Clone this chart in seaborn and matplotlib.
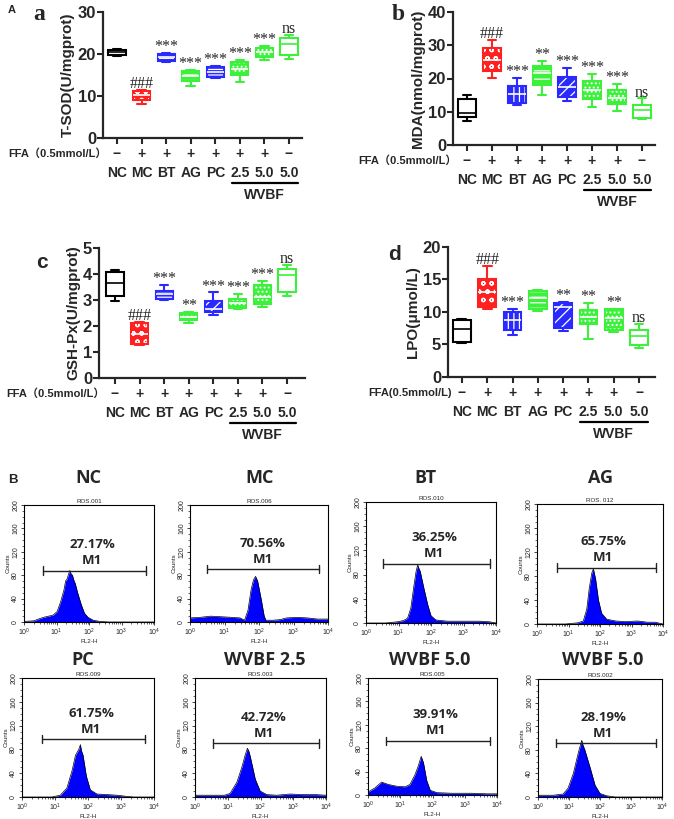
import numpy as np
import pandas as pd
import matplotlib
matplotlib.use("Agg")
import matplotlib.pyplot as plt
import seaborn as sns
from matplotlib.transforms import blended_transform_factory, offset_copy
from matplotlib.colors import to_rgba
from matplotlib.ticker import MultipleLocator

# ---------------- data ----------------
groups = ["NC", "MC", "BT", "AG", "PC", "W2.5", "W5.0", "W5.0n"]
group_labels = ["NC", "MC", "BT", "AG", "PC", "2.5", "5.0", "5.0"]
ffa_signs = ["\u2212", "+", "+", "+", "+", "+", "+", "\u2212"]

# (a) T-SOD five-number summaries
tsod_min = [19.5, 8.0, 18.0, 12.5, 14.3, 13.3, 18.5, 18.9]
tsod_q1 = [19.8, 9.0, 18.3, 13.5, 14.5, 14.9, 19.3, 19.8]
tsod_med = [20.5, 10.2, 19.2, 14.7, 15.8, 16.5, 20.5, 22.5]
tsod_q3 = [21.0, 11.3, 20.1, 15.9, 16.9, 18.1, 21.5, 23.9]
tsod_max = [21.3, 11.4, 20.3, 16.1, 17.1, 18.5, 21.9, 24.6]
tsod_sig = ["", "###", "***", "***", "***", "***", "***", "ns"]

# (b) MDA
mda_min = [7.3, 20.1, 12.0, 15.1, 13.1, 11.4, 10.1, 7.7]
mda_q1 = [8.5, 22.4, 12.6, 18.1, 14.3, 13.8, 12.4, 8.0]
mda_med = [9.5, 25.6, 15.3, 21.6, 17.4, 16.6, 14.1, 10.6]
mda_q3 = [13.8, 29.1, 17.8, 23.8, 20.6, 19.3, 16.6, 12.1]
mda_max = [15.1, 31.7, 20.1, 25.3, 23.1, 21.4, 18.3, 14.0]
mda_sig = ["", "###", "***", "**", "***", "***", "***", "ns"]

# (c) GSH-Px
gsh_min = [2.98, 1.26, 3.00, 2.13, 2.42, 2.65, 2.74, 3.16]
gsh_q1 = [3.17, 1.30, 3.04, 2.23, 2.55, 2.68, 2.85, 3.32]
gsh_med = [3.65, 1.68, 3.22, 2.36, 2.64, 2.87, 3.13, 3.97]
gsh_q3 = [4.07, 2.10, 3.36, 2.51, 2.98, 3.03, 3.57, 4.20]
gsh_max = [4.16, 2.14, 3.58, 2.53, 3.29, 3.23, 3.75, 4.36]
gsh_sig = ["", "###", "***", "**", "***", "***", "***", "ns"]

# (d) LPO
lpo_min = [5.2, 10.4, 6.5, 10.2, 7.1, 5.9, 6.9, 4.5]
lpo_q1 = [5.4, 10.8, 7.3, 10.4, 7.6, 8.2, 7.3, 4.9]
lpo_med = [7.4, 13.1, 8.7, 12.1, 10.8, 9.3, 9.0, 6.3]
lpo_q3 = [8.7, 15.1, 10.0, 13.3, 11.4, 10.3, 10.4, 7.2]
lpo_max = [8.9, 17.1, 10.5, 13.4, 11.5, 11.4, 10.5, 8.1]
lpo_sig = ["", "###", "***", "", "**", "**", "**", "ns"]

# (B) flow cytometry histograms: log10(FL2-H) positions and counts
nc_logx = [0, 0.3, 0.44, 0.6, 0.76, 0.9, 1.02, 1.13, 1.23, 1.28, 1.33, 1.36, 1.41, 1.45, 1.49, 1.53, 1.58, 1.65, 1.76, 1.86, 1.97, 2.13, 2.34, 2.6, 4]
nc_cnt = [1, 2, 5, 8, 10, 12, 18, 35, 55, 70, 74, 80, 88, 82, 80, 72, 65, 50, 30, 15, 8, 3, 1, 0, 0]
mc_logx = [0, 0.3, 0.6, 0.9, 1.2, 1.45, 1.58, 1.68, 1.77, 1.84, 1.9, 1.96, 2.06, 2.15, 2.2, 2.4, 2.6, 2.8, 3.1, 3.4, 3.7, 4]
mc_cnt = [7, 8, 10, 9, 8, 7, 3, 20, 55, 72, 78, 70, 40, 10, 3, 3, 4, 7, 8, 7, 5, 5]
bt_logx = [0, 0.6, 0.97, 1.15, 1.28, 1.38, 1.47, 1.54, 1.59, 1.63, 1.67, 1.77, 1.9, 2.0, 2.15, 2.5, 3.0, 3.5, 3.8, 4]
bt_cnt = [0, 0, 2, 4, 8, 25, 60, 85, 96, 90, 85, 60, 30, 12, 5, 3, 3, 3, 2, 0]
ag_logx = [0, 0.9, 1.3, 1.47, 1.58, 1.66, 1.74, 1.79, 1.83, 1.86, 1.95, 2.05, 2.21, 2.5, 2.8, 3.2, 3.5, 3.75, 4]
ag_cnt = [0, 0, 2, 5, 25, 60, 85, 92, 82, 75, 40, 18, 8, 5, 4, 5, 3, 3, 0]
pc_logx = [0, 0.9, 1.16, 1.36, 1.52, 1.62, 1.72, 1.77, 1.8, 1.85, 1.95, 2.07, 2.27, 2.6, 2.88, 3.18, 3.4, 4]
pc_cnt = [0, 0, 3, 15, 45, 70, 80, 88, 78, 70, 35, 12, 5, 4, 3, 1, 0, 0]
w25_logx = [0, 0.4, 0.9, 1.07, 1.28, 1.43, 1.53, 1.6, 1.65, 1.7, 1.84, 1.99, 2.19, 2.5, 2.9, 3.3, 3.7, 4]
w25_cnt = [3, 3, 3, 6, 25, 50, 70, 82, 76, 65, 30, 10, 4, 3, 5, 4, 4, 3]
w50_logx = [0, 0.21, 0.42, 0.63, 0.89, 1.15, 1.3, 1.46, 1.56, 1.65, 1.72, 1.82, 1.93, 2.14, 2.6, 3.2, 3.7, 4]
w50_cnt = [5, 12, 22, 18, 15, 14, 18, 35, 50, 66, 55, 25, 8, 4, 3, 3, 2, 2]
w50n_logx = [0, 0.5, 0.81, 0.97, 1.14, 1.3, 1.41, 1.45, 1.51, 1.68, 1.84, 2.0, 2.22, 2.5, 4]
w50n_cnt = [3, 3, 5, 15, 40, 75, 96, 88, 80, 50, 20, 6, 2, 0, 0]

hist_titles = ["NC", "MC", "BT", "AG", "PC", "WVBF 2.5", "WVBF 5.0", "WVBF 5.0"]
ros_ids = ["ROS.001", "ROS.006", "ROS.010", "ROS. 012", "ROS.009", "ROS.003", "ROS.005", "ROS.002"]
m1_pct = ["27.17%", "70.56%", "36.25%", "65.75%", "61.75%", "42.72%", "39.91%", "28.19%"]
m1_left = [3.8, 3.1, 3.4, 4.3, 3.9, 3.6, 3.7, 3.9]
m1_right = [5500, 5500, 6700, 5800, 5200, 6000, 6000, 6600]
m1_y = [88, 90, 98, 94, 97, 90, 93, 91]

# ---------------- style ----------------
sns.set_theme(style="ticks")
plt.rcParams["font.family"] = ["Liberation Sans", "Noto Sans CJK SC", "DejaVu Sans"]
plt.rcParams["hatch.linewidth"] = 0.9
plt.rcParams["mathtext.default"] = "regular"

RED, BLUE, GREEN = "#ff2020", "#2a2aff", "#3cf03c"
face = ["white", RED, BLUE, GREEN, BLUE, GREEN, GREEN, "white"]
edge = ["black", RED, BLUE, GREEN, BLUE, GREEN, GREEN, GREEN]

W, H = 674, 819
fig = plt.figure(figsize=(W / 100, H / 100), dpi=100)


def pax(L, T, R, B):
    return fig.add_axes([L / W, 1 - B / H, (R - L) / W, (B - T) / H])


panels = [
    dict(pos=(103, 12, 302, 138), vals=(tsod_min, tsod_q1, tsod_med, tsod_q3, tsod_max),
         ylim=(0, 30), yticks=[0, 10, 20, 30], ylabel="T-SOD(U/mgprot)", sig=tsod_sig,
         hatch=["", "oo", "---", "---", "---", "....", "....", ""],
         ffa="FFA\uff080.5mmol/L\uff09", xlim=(-0.57, 7.53)),
    dict(pos=(453, 12, 655, 145), vals=(mda_min, mda_q1, mda_med, mda_q3, mda_max),
         ylim=(0, 40), yticks=[0, 10, 20, 30, 40], ylabel="MDA(nmol/mgprot)", sig=mda_sig,
         hatch=["", "oo", "|||", "--", "///", "....", "....", ""],
         ffa="FFA\uff080.5mmol/L\uff09", xlim=(-0.56, 7.52)),
    dict(pos=(99, 248, 305, 378), vals=(gsh_min, gsh_q1, gsh_med, gsh_q3, gsh_max),
         ylim=(0, 5), yticks=[0, 1, 2, 3, 4, 5], ylabel="GSH-Px(U/mgprot)", sig=gsh_sig,
         hatch=["", "oo", "---", "....", "///", "....", "....", ""],
         ffa="FFA\uff080.5mmol/L\uff09", xlim=(-0.65, 7.73)),
    dict(pos=(448, 247, 655, 377), vals=(lpo_min, lpo_q1, lpo_med, lpo_q3, lpo_max),
         ylim=(0, 20), yticks=[0, 5, 10, 15, 20], ylabel="LPO(\u03bcmol/L)", sig=lpo_sig,
         hatch=["", "oo", "|||", "---", "///", "....", "....", ""],
         ffa="FFA(0.5mmol/L)", xlim=(-0.55, 7.63)),
]

for p in panels:
    ax = pax(*p["pos"])
    mins, q1, med, q3, mx = p["vals"]
    df = pd.DataFrame({
        "group": np.repeat(groups, 5),
        "value": np.column_stack([mins, q1, med, q3, mx]).ravel(),
    })
    for i, g in enumerate(groups):
        n0 = len(ax.patches)
        mcol = "white" if face[i] != "white" else edge[i]
        sns.boxplot(data=df[df["group"] == g], x="group", y="value", order=groups,
                    color=face[i], linecolor=edge[i], saturation=1, width=0.7,
                    whis=(0, 100), showfliers=False, linewidth=1.5,
                    medianprops=dict(color=mcol, linewidth=1.2), ax=ax)
        for patch in ax.patches[n0:]:
            patch.set_hatch(p["hatch"][i])
            patch._hatch_color = to_rgba("white")
    ax.set_xlim(*p["xlim"])
    ax.set_ylim(*p["ylim"])
    ax.set_yticks(p["yticks"])
    ax.set_xticks(range(len(groups)))
    ax.set_xticklabels([])
    ax.set_xlabel("")
    ax.set_ylabel(p["ylabel"], fontsize=11, fontweight="bold", labelpad=2)
    sns.despine(ax=ax)
    for s in ("left", "bottom"):
        ax.spines[s].set_linewidth(1.6)
    ax.tick_params(axis="both", direction="out", width=1.5, length=4, pad=1, labelsize=12)
    for lbl in ax.get_yticklabels():
        lbl.set_fontweight("bold")

    for i, s in enumerate(p["sig"]):
        if s:
            ax.annotate(s, (i, mx[i]), xytext=(0, -1.5), textcoords="offset points",
                        ha="center", va="bottom", family="Liberation Serif",
                        fontsize=11.5, annotation_clip=False)

    base = blended_transform_factory(ax.transData, ax.transAxes)

    def tr(dy, base=base):
        return offset_copy(base, fig=fig, x=0, y=-dy, units="dots")

    for i, (s, l) in enumerate(zip(ffa_signs, group_labels)):
        ax.text(i, 0, s, transform=tr(16), ha="center", va="center", fontsize=10,
                fontweight="bold", clip_on=False)
        ax.text(i, 0, l, transform=tr(35), ha="center", va="center", fontsize=10,
                fontweight="bold", clip_on=False)
    ax.text(-0.42, 0, p["ffa"], transform=tr(16), ha="right", va="center", fontsize=8,
            fontweight="bold", clip_on=False)
    ax.plot([4.68, 7.37], [0, 0], transform=tr(45), color="black", lw=1.6, clip_on=False)
    ax.text(6.0, 0, "WVBF", transform=tr(57), ha="center", va="center", fontsize=10,
            fontweight="bold", clip_on=False)

# panel letters
fig.text(8 / W, 1 - 10 / H, "A", fontsize=8, fontweight="bold", va="center")
fig.text(33 / W, 1 - 15 / H, "a", fontsize=17, fontweight="bold", family="Liberation Serif", va="center")
fig.text(392 / W, 1 - 15 / H, "b", fontsize=17, fontweight="bold", family="Liberation Serif", va="center")
fig.text(36 / W, 1 - 262 / H, "c", fontsize=15, fontweight="bold", va="center")
fig.text(388 / W, 1 - 255 / H, "d", fontsize=15, fontweight="bold", va="center")
fig.text(8 / W, 1 - 480 / H, "B", fontsize=9.5, fontweight="bold", va="center")

# ---------------- histograms ----------------
hist_x = [nc_logx, mc_logx, bt_logx, ag_logx, pc_logx, w25_logx, w50_logx, w50n_logx]
hist_y = [nc_cnt, mc_cnt, bt_cnt, ag_cnt, pc_cnt, w25_cnt, w50_cnt, w50n_cnt]
hist_pos = [(24, 505, 154, 622), (190, 505, 328, 622), (366, 502, 496, 623), (537, 504, 663, 624),
            (22, 678, 154, 797), (195, 678, 326, 797), (368, 678, 497, 795), (538, 679, 662, 797)]
title_xy = [(88, 478), (260, 478), (425, 478), (600, 478),
            (83, 660), (265, 660), (430, 660), (603, 660)]

for k in range(8):
    ax = pax(*hist_pos[k])
    xs = 10 ** np.asarray(hist_x[k], dtype=float)
    ys = np.asarray(hist_y[k], dtype=float)
    ax.fill_between(xs, ys, color="#0000ff", lw=0)
    sns.lineplot(x=xs, y=ys, color="black", lw=0.5, estimator=None, sort=False, ax=ax)
    ax.set_xscale("log")
    ax.set_xlim(1, 1e4)
    ax.set_ylim(0, 200)
    ax.set_xticks([1, 10, 100, 1000, 10000])
    ax.set_xticklabels(["$10^0$", "$10^1$", "$10^2$", "$10^3$", "$10^4$"])
    ax.set_yticks([0, 40, 80, 120, 160, 200])
    ax.yaxis.set_minor_locator(MultipleLocator(10))
    ax.tick_params(axis="both", which="major", labelsize=5, length=2.5, width=0.6, pad=1)
    ax.tick_params(axis="both", which="minor", length=1.5, width=0.5)
    for lbl in ax.get_yticklabels():
        lbl.set_rotation(90)
        lbl.set_va("center")
    for s in ax.spines.values():
        s.set_visible(True)
        s.set_linewidth(0.8)
        s.set_color("black")
    ax.set_xlabel("FL2-H", fontsize=4.5, labelpad=0.5)
    ax.set_ylabel("Counts", fontsize=4.5, labelpad=1)
    ax.set_title(ros_ids[k], fontsize=4.5, pad=1.5)

    l, r, y = m1_left[k], m1_right[k], m1_y[k]
    ax.plot([l, r], [y, y], color="#222222", lw=1.0)
    ax.plot([l, l], [y - 7, y + 7], color="#222222", lw=1.0)
    ax.plot([r, r], [y - 7, y + 7], color="#222222", lw=1.0)
    cx = 10 ** 2.1
    ax.text(cx, y + 44, m1_pct[k], ha="center", va="center", fontsize=9.5,
            fontweight="bold", family="Open Sans")
    ax.text(cx, y + 17, "M1", ha="center", va="center", fontsize=9.5,
            fontweight="bold", family="Open Sans")

    tx, ty = title_xy[k]
    fig.text(tx / W, 1 - ty / H, hist_titles[k], ha="center", va="center",
             fontsize=13, fontweight="bold", family="Open Sans")

fig.savefig("out.png", dpi=100)
